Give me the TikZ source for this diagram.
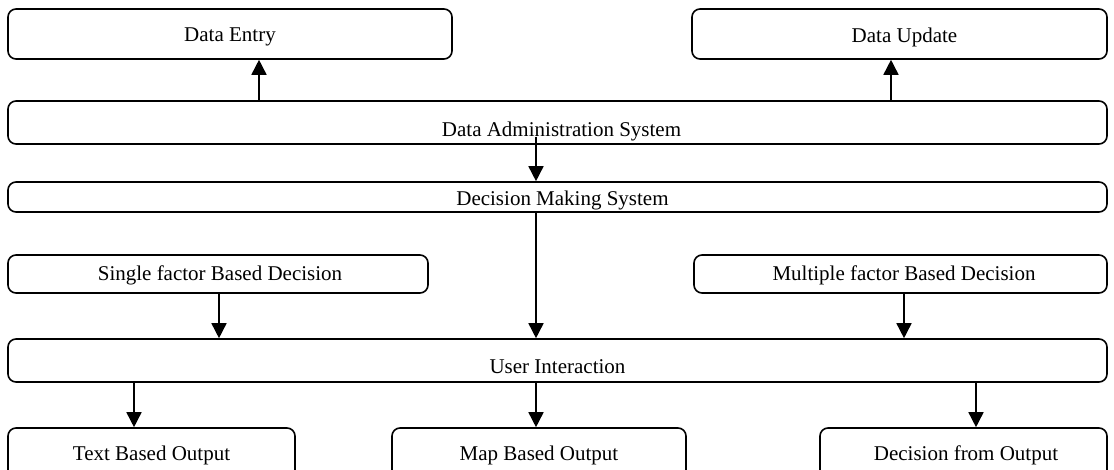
\documentclass[tikz,border=0pt]{standalone}
\usepackage{fontspec}
\setmainfont{Liberation Serif}
\usetikzlibrary{arrows.meta,calc}
\newcommand\lowertxt[2]{\raisebox{-#1}[\height][\depth]{#2}}
\begin{document}
\begin{tikzpicture}[x=1pt,y=-1pt,
  box/.style={draw,line width=1.6pt,rounded corners=8pt,inner sep=0pt,font=\fontsize{21}{25}\selectfont},
  arr/.style={line width=1.6pt,-{Triangle[length=15pt,width=15pt]}}]
\useasboundingbox (0,0) rectangle (1114,470);
\clip (0,0) rectangle (1114,470);
% boxes
\node[box,minimum width=444pt,minimum height=50pt] (de) at (230,34) {\lowertxt{3pt}{Data Entry}};
\node[box,minimum width=415pt,minimum height=50pt] (du) at (899.5,34) {\lowertxt{3pt}{\hspace*{10pt}Data Update}};
\node[box,minimum width=1099pt,minimum height=43pt] (das) at (557.5,122.5) {\lowertxt{9pt}{\hspace*{8pt}Data Administration System}};
\node[box,minimum width=1099pt,minimum height=30pt] (dms) at (557.5,197) {\lowertxt{3pt}{\hspace*{10pt}Decision Making System}};
\node[box,minimum width=420pt,minimum height=38pt] (sf) at (218,274) {\lowertxt{1pt}{\hspace*{4pt}Single factor Based Decision}};
\node[box,minimum width=413pt,minimum height=38pt] (mf) at (900.5,274) {\lowertxt{1pt}{\hspace*{7pt}Multiple factor Based Decision}};
\node[box,minimum width=1099pt,minimum height=43pt] (ui) at (557.5,360.5) {\lowertxt{6pt}{User Interaction}};
\node[box,minimum width=287pt,minimum height=50pt] (tbo) at (151.5,453) {\lowertxt{2pt}{Text Based Output}};
\node[box,minimum width=294pt,minimum height=50pt] (mbo) at (539,453) {\lowertxt{2pt}{Map Based Output}};
\node[box,minimum width=287pt,minimum height=50pt] (dfo) at (963.5,453) {\lowertxt{2pt}{\hspace*{5pt}Decision from Output}};
% x positions of connectors
\coordinate (xa) at (259,0);
\coordinate (xb) at (891,0);
\coordinate (xc) at (536,0);
\coordinate (xd) at (219,0);
\coordinate (xe) at (904,0);
\coordinate (xf) at (134,0);
\coordinate (xg) at (976,0);
\coordinate (s1) at (536,137);
% connectors
\draw[arr] (das.north -| xa) -- (de.south -| xa);
\draw[arr] (das.north -| xb) -- (du.south -| xb);
\draw[arr] (s1) -- (dms.north -| s1);
\draw[arr] (dms.south -| xc) -- (ui.north -| xc);
\draw[arr] (sf.south -| xd) -- (ui.north -| xd);
\draw[arr] (mf.south -| xe) -- (ui.north -| xe);
\draw[arr] (ui.south -| xf) -- (tbo.north -| xf);
\draw[arr] (ui.south -| xc) -- (mbo.north -| xc);
\draw[arr] (ui.south -| xg) -- (dfo.north -| xg);
\end{tikzpicture}
\end{document}
